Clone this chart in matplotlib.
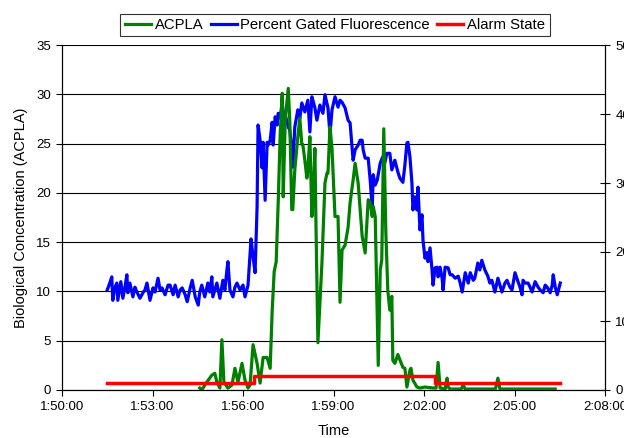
import matplotlib
matplotlib.use("Agg")
import matplotlib.pyplot as plt
from matplotlib.ticker import FuncFormatter, MultipleLocator

plt.rcParams['font.family'] = ['Liberation Sans', 'DejaVu Sans']

# ---------------- data ----------------
start_clock = "1:50:00"          # x axis origin
end_clock = "2:08:00"            # x axis end

# Percent Gated Fluorescence (right axis), time in seconds after 1:50:00
blue_time = [90, 95, 99, 101, 105, 109, 111, 117, 121, 125,
             129, 131, 135, 141, 145, 149, 155, 161, 165, 169,
             175, 181, 185, 191, 195, 199, 205, 211, 215, 221,
             225, 231, 235, 239, 245, 249, 255, 259, 265, 271,
             274, 278, 284, 290, 294, 298, 300, 304, 308, 314,
             320, 324, 328, 330, 334, 340, 344, 348, 354, 360,
             364, 370, 376, 380, 384, 388, 390, 394, 398, 400,
             404, 408, 410, 414, 418, 420, 424, 428, 430, 434,
             438, 440, 444, 448, 450, 453, 457, 459, 463, 469,
             473, 477, 483, 489, 493, 497, 499, 503, 507, 513,
             519, 523, 529, 533, 537, 543, 549, 553, 557, 563,
             569, 573, 577, 579, 583, 589, 593, 597, 599, 603,
             609, 613, 617, 619, 623, 627, 633, 638, 642, 646,
             652, 656, 662, 668, 672, 678, 682, 686, 688, 692,
             696, 698, 702, 706, 708, 712, 716, 718, 722, 726,
             728, 732, 736, 738, 742, 746, 748, 752, 756, 758,
             762, 768, 772, 776, 782, 788, 792, 796, 802, 808,
             812, 818, 821, 827, 831, 835, 841, 847, 851, 855,
             861, 867, 871, 875, 881, 885, 891, 895, 901, 907,
             911, 915, 917, 921, 927, 931, 935, 941, 947, 951,
             957, 961, 965, 971, 975, 977, 981, 985, 991]
blue_pct = [14.5, 15.5, 16.4, 13.0, 14.8, 15.5, 13.0, 15.7, 13.3, 14.8,
            16.7, 14.1, 15.5, 13.5, 14.9, 14.2, 13.3, 14.1, 14.5, 15.5,
            13.0, 14.8, 14.2, 16.2, 14.5, 14.8, 13.8, 15.2, 15.2, 13.8,
            15.2, 13.5, 14.5, 14.8, 13.8, 12.8, 14.8, 15.9, 13.5, 12.3,
            14.2, 15.2, 13.5, 15.5, 14.2, 16.4, 13.5, 14.5, 15.5, 13.3,
            15.9, 14.5, 17.4, 18.6, 14.5, 13.5, 14.9, 15.5, 14.5, 15.2,
            13.5, 15.2, 21.9, 19.3, 17.0, 26.5, 38.4, 36.2, 32.2, 35.9,
            27.5, 35.9, 35.5, 36.2, 38.8, 35.5, 39.6, 38.4, 40.1, 39.4,
            41.6, 40.3, 39.9, 38.7, 38.1, 37.7, 34.8, 32.3, 38.1, 40.6,
            39.4, 41.6, 40.3, 42.0, 37.4, 42.5, 42.0, 40.9, 39.1, 41.3,
            40.1, 42.8, 40.9, 37.0, 40.6, 42.5, 41.0, 42.0, 41.7, 40.9,
            39.1, 38.7, 35.2, 33.3, 34.8, 35.5, 36.2, 36.2, 34.8, 33.6,
            33.6, 30.4, 26.4, 31.2, 29.7, 30.4, 32.9, 33.8, 32.9, 34.3,
            34.3, 31.9, 33.3, 31.6, 30.7, 30.1, 32.6, 35.8, 35.9, 33.8,
            30.0, 26.1, 28.0, 26.1, 29.4, 23.2, 25.4, 21.7, 19.1, 19.9,
            18.6, 20.6, 17.4, 15.2, 17.7, 17.8, 16.4, 17.8, 16.2, 14.5,
            17.8, 17.7, 16.7, 16.7, 16.2, 16.5, 15.5, 14.2, 17.0, 15.5,
            17.0, 15.9, 16.2, 18.4, 17.4, 18.8, 17.4, 16.5, 15.5, 15.9,
            14.2, 16.2, 15.2, 14.2, 15.5, 15.9, 14.9, 14.5, 17.0, 15.7,
            14.9, 13.8, 15.9, 15.5, 15.5, 14.9, 14.2, 15.7, 14.9, 14.5,
            14.1, 15.2, 14.9, 14.1, 15.2, 16.7, 14.9, 13.8, 15.5]

# ACPLA (left axis)
green_time = [274, 278, 288, 298, 304, 308, 314, 318, 322, 330,
              338, 344, 350, 358, 364, 370, 374, 380, 388, 394,
              400, 408, 414, 418, 422, 426, 430, 434, 438, 440,
              444, 450, 453, 457, 459, 463, 469, 473, 477, 479,
              483, 487, 489, 493, 497, 499, 503, 505, 509, 517,
              523, 527, 529, 533, 537, 543, 549, 553, 557, 563,
              569, 573, 579, 583, 589, 597, 603, 609, 613, 617,
              619, 623, 629, 633, 636, 640, 644, 648, 652, 656,
              658, 662, 668, 678, 682, 686, 692, 694, 698, 706,
              712, 722, 738, 744, 748, 752, 762, 766, 768, 772,
              794, 798, 802, 862, 867, 871, 981]
green_acpla = [0.2, 0.0, 0.8, 1.5, 1.7, 0.8, 0.2, 5.1, 0.8, 0.2,
               0.5, 2.2, 0.8, 2.7, 1.0, 0.2, 0.5, 4.6, 2.7, 0.7,
               3.3, 3.3, 2.2, 8.0, 12.0, 13.0, 19.0, 26.0, 30.1, 19.6,
               27.4, 30.6, 27.4, 18.3, 18.3, 22.3, 25.7, 27.6, 24.9, 24.9,
               23.3, 21.5, 22.3, 25.7, 17.6, 19.1, 24.5, 17.2, 4.8, 12.9,
               21.0, 22.0, 22.0, 26.7, 24.5, 17.6, 17.6, 8.9, 14.2, 14.7,
               16.5, 19.0, 21.3, 23.0, 21.0, 15.6, 13.9, 19.3, 19.0, 17.6,
               18.6, 17.6, 2.5, 12.2, 13.2, 26.5, 16.2, 10.1, 8.1, 9.5,
               3.0, 2.7, 3.6, 2.3, 2.2, 0.3, 2.0, 2.2, 1.0, 0.3,
               0.2, 0.3, 0.2, 0.2, 2.8, 0.2, 0.1, 1.2, 0.3, 0.1,
               0.1, 0.5, 0.1, 0.1, 1.2, 0.1, 0.1]

# Alarm State (right axis), step changes
alarm_time = [90, 382, 742, 991]
alarm_state = [1, 2, 1, 1]

labels = ["ACPLA", "Percent Gated Fluorescence", "Alarm State"]
colors = ["#008000", "#0000FF", "#FF0000"]


def clock_to_s(c):
    h, m, s = (int(v) for v in c.split(":"))
    return h * 3600 + m * 60 + s


base = clock_to_s(start_clock)
span = clock_to_s(end_clock) - base


def fmt_time(v, pos):
    t = int(round(base + v))
    return f"{t // 3600}:{(t % 3600) // 60:02d}:{t % 60:02d}"


# ---------------- figure ----------------
fig = plt.figure(figsize=(6.24, 4.38), dpi=100)
ax = fig.add_axes([62 / 624, 48 / 438, 543 / 624, 345 / 438])
ax2 = ax.twinx()
ax.set_zorder(ax2.get_zorder() + 1)
ax.patch.set_visible(False)

ax.set_xlim(0, span)
ax.set_ylim(0, 35)
ax2.set_ylim(0, 50)

# gridlines behind series
ax.yaxis.grid(True, color="black", linewidth=0.8)
ax.set_axisbelow(True)

lb, = ax.plot(blue_time, blue_pct, color=colors[1], lw=2.3,
              transform=ax2.transData, zorder=2, label=labels[1])
lg, = ax.plot(green_time, green_acpla, color=colors[0], lw=2.3,
              zorder=3, label=labels[0])
lr, = ax.plot(alarm_time, alarm_state, color=colors[2], lw=2.5,
              drawstyle="steps-post", transform=ax2.transData,
              zorder=4, label=labels[2])

ax.xaxis.set_major_locator(MultipleLocator(180))
ax.xaxis.set_major_formatter(FuncFormatter(fmt_time))
ax.yaxis.set_major_locator(MultipleLocator(5))
ax2.yaxis.set_major_locator(MultipleLocator(10))

ax.tick_params(axis="both", direction="out", length=4, width=0.8,
               labelsize=9.5, pad=4)
ax2.tick_params(axis="y", direction="inout", length=7, width=0.8,
                labelsize=9.5, pad=4)

for a in (ax, ax2):
    a.spines["top"].set_visible(False)
    for s in ("left", "bottom", "right"):
        a.spines[s].set_linewidth(0.8)
        a.spines[s].set_color("black")

ax.set_xlabel("Time", fontsize=10.5, labelpad=8)
ax.set_ylabel("Biological Concentration (ACPLA)", fontsize=10.5, labelpad=6)

leg = fig.legend([lg, lb, lr], labels, loc="center",
                 bbox_to_anchor=(335 / 624, 1 - 25 / 438), ncol=3,
                 fontsize=10.7, frameon=True, fancybox=False,
                 edgecolor="black", handlelength=1.75, handletextpad=0.25,
                 columnspacing=0.5, borderpad=0.3, borderaxespad=0)
leg.get_frame().set_linewidth(0.8)

fig.savefig("out.png", dpi=100)
